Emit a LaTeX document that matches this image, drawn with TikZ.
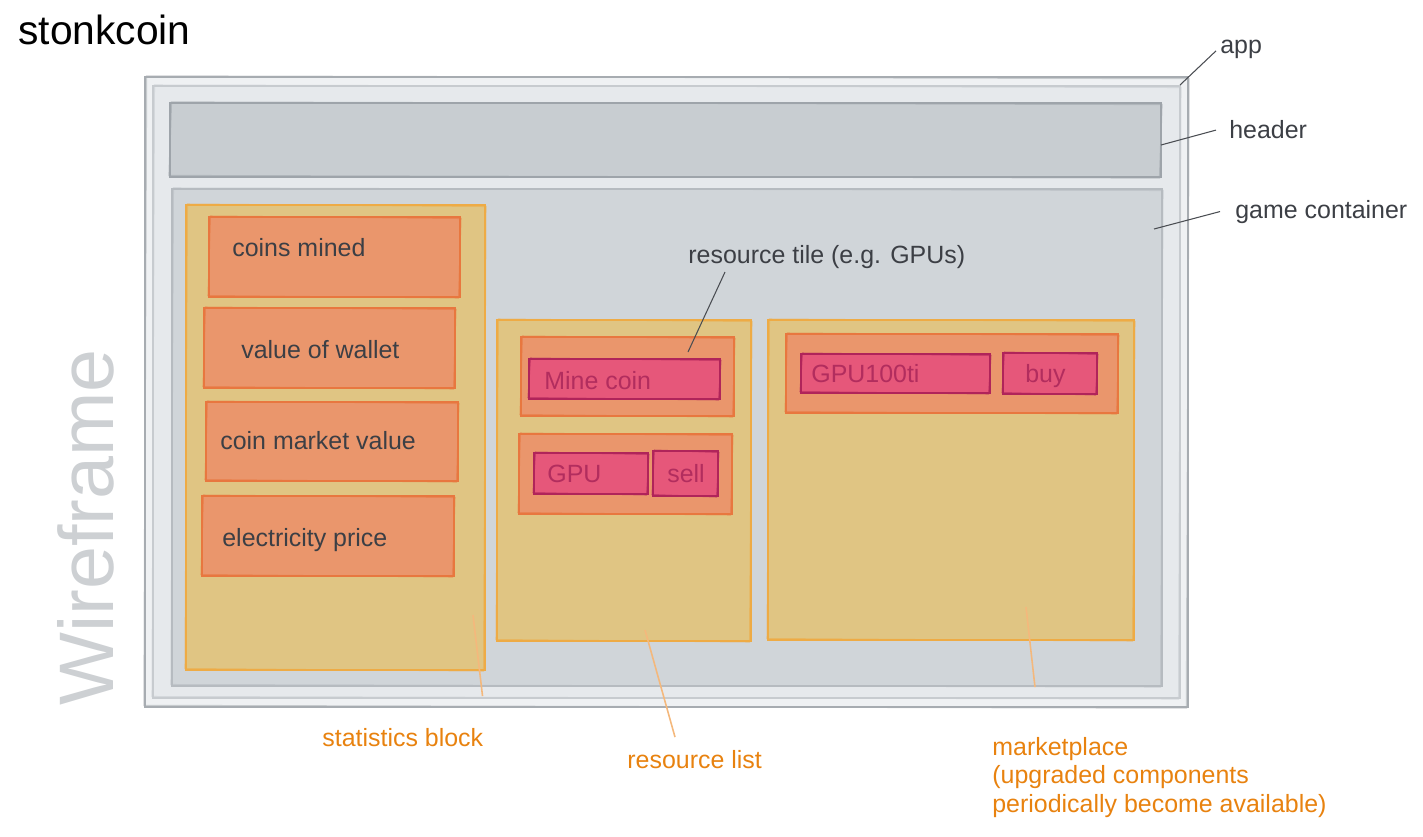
\documentclass[tikz,border=0pt]{standalone}
\usepackage{fontspec}
\setmainfont{Liberation Sans}
\usepackage{tikz}
\usepackage{xcolor}
\usetikzlibrary{calc}

\definecolor{cAppOut}{HTML}{EFF1F3}
\definecolor{cAppIn}{HTML}{E6E9EC}
\definecolor{cAppLine}{HTML}{A7ACB1}
\definecolor{cAppLine2}{HTML}{C7CBCF}
\definecolor{cHead}{HTML}{C8CDD1}
\definecolor{cHeadLine}{HTML}{9EA4AA}
\definecolor{cGame}{HTML}{D0D5D9}
\definecolor{cGameLine}{HTML}{B6BBC0}
\definecolor{cBlock}{HTML}{E0C583}
\definecolor{cBlockLine}{HTML}{EEAB45}
\definecolor{cTile}{HTML}{EA966C}
\definecolor{cTileLine}{HTML}{E8773F}
\definecolor{cBtn}{HTML}{E6577A}
\definecolor{cBtnLine}{HTML}{B0245A}
\definecolor{cBtnText}{HTML}{B22D5E}
\definecolor{cText}{HTML}{3C3F45}
\definecolor{cOrange}{HTML}{E8820F}
\definecolor{cOrangeLine}{HTML}{F4B87C}
\definecolor{cLead}{HTML}{4A4D52}
\definecolor{cWire}{HTML}{CDD0D3}

% rough double-stroked box: style, x1, y1, x2, y2
\newcommand{\sketchbox}[5]{%
  \path[#1] (#2,#3) rectangle (#4,#5);
  \draw[#1, fill=none, draw opacity=0.55] (#2+1.5,#3-1) -- (#4+1,#3+1.5) -- (#4-1.5,#5+1) -- (#2-1,#5-1.5) -- cycle;
}

\begin{document}
\begin{tikzpicture}[x=0.02cm, y=-0.02cm,
    appouter/.style={fill=cAppOut, draw=cAppLine, line width=0.8pt},
    appinner/.style={fill=cAppIn, draw=cAppLine2, line width=0.6pt},
    headbox/.style={fill=cHead, draw=cHeadLine, line width=0.7pt},
    gamebox/.style={fill=cGame, draw=cGameLine, line width=0.6pt},
    blockbox/.style={fill=cBlock, draw=cBlockLine, line width=0.6pt},
    tilebox/.style={fill=cTile, draw=cTileLine, line width=0.6pt},
    btnbox/.style={fill=cBtn, draw=cBtnLine, line width=0.6pt},
    lbl/.style={font=\fontsize{14.2}{16.2}\selectfont, text=cText, inner xsep=0pt, inner ysep=2pt, anchor=base west},
    btnlbl/.style={lbl, text=cBtnText},
    orangelbl/.style={lbl, text=cOrange, align=left},
    leader/.style={draw=cLead, line width=0.6pt},
    orangeleader/.style={draw=cOrangeLine, line width=0.9pt}]
    \useasboundingbox (0,0) rectangle (1423,836);

    % Titre
    \node[anchor=base west, inner sep=0, font=\fontsize{23.2}{28}\selectfont] (title) at (18,44) {stonkcoin};
    \node[anchor=base west, inner sep=0, rotate=90, text=cWire, font=\fontsize{44}{50}\selectfont] (wire) at (113,706) {Wireframe};

    % App + header + game container
    \sketchbox{appouter}{145}{77}{1188}{707}
    \sketchbox{appinner}{153}{86}{1180}{698}
    \sketchbox{headbox}{170}{103}{1161}{177}
    \sketchbox{gamebox}{172}{189}{1162}{686}

    % Statistics block
    \sketchbox{blockbox}{186}{205}{485}{670}
    \sketchbox{tilebox}{209}{217}{460}{297}
    \sketchbox{tilebox}{204}{308}{455}{388}
    \sketchbox{tilebox}{206}{402}{458}{481}
    \sketchbox{tilebox}{202}{496}{454}{576}
    \node[lbl] (coins) at (232,256) {coins mined};
    \node[lbl] (wallet) at (241,358) {value of wallet};
    \node[lbl] (market) at (220,449) {coin market value};
    \node[lbl] (elec) at (222,546) {electricity price};

    % Resource list
    \sketchbox{blockbox}{497}{320}{751}{641}
    \sketchbox{tilebox}{521}{337}{734}{416}
    \sketchbox{btnbox}{529}{359}{720}{399}
    \sketchbox{tilebox}{519}{434}{732}{514}
    \sketchbox{btnbox}{534}{453}{648}{494}
    \sketchbox{btnbox}{653}{451}{718}{496}
    \node[btnlbl] (mine) at (544,389) {Mine coin};
    \node[btnlbl] (gpu) at (547,482) {GPU};
    \node[btnlbl] (sell) at (667,482) {sell};

    % Marketplace
    \sketchbox{blockbox}{768}{320}{1134}{640}
    \sketchbox{tilebox}{786}{334}{1118}{413}
    \sketchbox{btnbox}{801}{354}{990}{393}
    \sketchbox{btnbox}{1003}{353}{1097}{394}
    \node[btnlbl] (gputi) at (811,382) {GPU100ti};
    \node[btnlbl] (buy) at (1025,382) {buy};

    % Labels
    \node[lbl] (applbl) at (1220,53) {app};
    \node[lbl] (headlbl) at (1229,138) {header};
    \node[lbl] (gamelbl) at (1235,218) {game container};
    \node[lbl] (tilelbl) at (688,263) {resource tile (e.g. GPUs)};
    \node[orangelbl] (statlbl) at (322,746) {statistics block};
    \node[orangelbl] (reslbl) at (627,768) {resource list};
    \node[orangelbl] (mktlbl) at (992,812) {marketplace\\(upgraded components\\periodically become available)};

    % Lignes
    \coordinate (append) at (1180,85);
    \coordinate (headend) at (1161,145);
    \coordinate (gameend) at (1154,229);
    \coordinate (tileend) at (688,352);
    \coordinate (statend) at (473,615);
    \coordinate (resend) at (645,630);
    \coordinate (mktend) at (1026,607);
    \draw[leader] ($(applbl.west)+(-4,2)$) -- (append);
    \draw[leader] ($(headlbl.west)+(-13,1)$) -- (headend);
    \draw[leader] ($(gamelbl.west)+(-15,0)$) -- (gameend);
    \draw[leader] ($(tilelbl.south west)+(37,0)$) -- (tileend);
    \draw[orangeleader] ($(statlbl.north east)+(-1,-28)$) -- (statend);
    \draw[orangeleader] ($(reslbl.north west)+(48,-9)$) -- (resend);
    \draw[orangeleader] ($(mktlbl.north west)+(43,-46)$) -- (mktend);

\end{tikzpicture}
\end{document}
